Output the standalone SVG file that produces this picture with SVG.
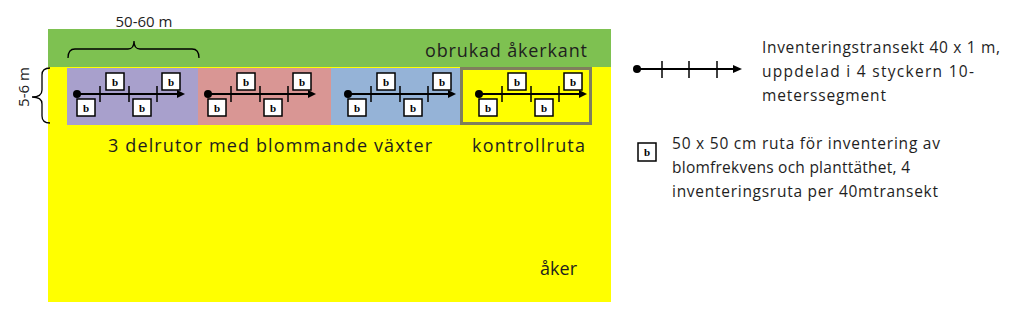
<svg xmlns="http://www.w3.org/2000/svg" xmlns:xlink="http://www.w3.org/1999/xlink" width="1023" height="332" viewBox="0 0 1023 332">
<style>
.t{font-family:"Open Sans","Liberation Sans",sans-serif;fill:#1e1e1e}
.b{font-family:"Liberation Serif",serif;font-weight:bold;font-size:11px;fill:#000;text-anchor:middle}
.bx{fill:#fff;stroke:#000;stroke-width:1.5}
.ln{stroke:#000;stroke-width:2;fill:none}
.tk{stroke:#000;stroke-width:1.5}
.br{stroke:#000;stroke-width:1.3;fill:none}
</style>
<defs>
<g id="transect">
<line class="ln" x1="0" y1="0" x2="101" y2="0"/>
<polygon points="100,-4 108,0 100,4" fill="#000"/>
<circle cx="0" cy="0" r="4" fill="#000"/>
<line class="tk" x1="23" y1="-8" x2="23" y2="8"/>
<line class="tk" x1="52" y1="-8" x2="52" y2="8"/>
<line class="tk" x1="80" y1="-8" x2="80" y2="8"/>
<rect class="bx" x="29" y="-21" width="18" height="17"/>
<text class="b" x="38" y="-8.5">b</text>
<rect class="bx" x="85" y="-21" width="18" height="17"/>
<text class="b" x="94" y="-8.5">b</text>
<rect class="bx" x="0" y="5" width="18" height="17"/>
<text class="b" x="9" y="17.5">b</text>
<rect class="bx" x="56" y="5" width="18" height="17"/>
<text class="b" x="65" y="17.5">b</text>
</g>
</defs>
<rect width="1023" height="332" fill="#fff"/>
<g id="field">
<rect x="48" y="67" width="563" height="235" fill="#ffff00"/>
<text class="t" x="577" y="275" font-size="18" text-anchor="end">åker</text>
</g>
<g id="edge">
<rect x="48" y="29" width="563" height="38" fill="#7ec151"/>
<text class="t" x="587" y="57" font-size="18" text-anchor="end" textLength="162">obrukad åkerkant</text>
</g>
<g id="plot1">
<rect x="67" y="68" width="131" height="57" fill="#a8a0cc"/>
<use xlink:href="#transect" x="77" y="94"/>
</g>
<g id="plot2">
<rect x="198" y="68" width="133" height="57" fill="#d99694"/>
<use xlink:href="#transect" x="208" y="94"/>
</g>
<g id="plot3">
<rect x="331" y="68" width="129" height="57" fill="#95b3d7"/>
<use xlink:href="#transect" x="348" y="94"/>
</g>
<g id="control">
<rect x="461.5" y="68.5" width="129" height="55" fill="#ffff00" stroke="#7f7f5c" stroke-width="3"/>
<use xlink:href="#transect" x="479" y="94"/>
</g>
<g id="labels">
<text class="t" x="108" y="152" font-size="18" textLength="324">3 delrutor med blommande växter</text>
<text class="t" x="472" y="152" font-size="18" textLength="113">kontrollruta</text>
</g>
<g id="dimensions">
<text class="t" x="144" y="27" font-size="15" text-anchor="middle">50-60 m</text>
<path class="br" d="M68,58 Q68,49 75,49 L128,49 Q134,49 134,41 Q134,49 140,49 L192,49 Q199,49 199,58"/>
<text class="t" x="0" y="0" font-size="15" text-anchor="middle" transform="translate(29,87) rotate(-90)">5-6 m</text>
<path class="br" d="M50,68 Q42,68 42,75 L42,90 Q42,97 32,97 Q42,97 42,104 L42,116 Q42,123 50,123"/>
</g>
<g id="legend-transect">
<line class="ln" x1="637" y1="69" x2="734" y2="69"/>
<polygon points="733,65 742,69 733,73" fill="#000"/>
<circle cx="637" cy="69" r="4" fill="#000"/>
<line class="tk" x1="662" y1="61" x2="662" y2="78"/>
<line class="tk" x1="689" y1="61" x2="689" y2="78"/>
<line class="tk" x1="717" y1="61" x2="717" y2="78"/>
<text class="t" font-size="15.5"><tspan x="762" y="53" textLength="238">Inventeringstransekt 40 x 1 m,</tspan><tspan x="762" y="77" textLength="212">uppdelad i 4 styckern 10-</tspan><tspan x="762" y="101" textLength="124">meterssegment</tspan></text>
</g>
<g id="legend-box">
<rect class="bx" x="638" y="143" width="18" height="18"/>
<text class="b" x="647" y="156">b</text>
<text class="t" font-size="15.5"><tspan x="672" y="149" textLength="268">50 x 50 cm ruta för inventering av</tspan><tspan x="672" y="173" textLength="238">blomfrekvens och planttäthet, 4</tspan><tspan x="672" y="197" textLength="266">inventeringsruta per 40mtransekt</tspan></text>
</g>
</svg>
